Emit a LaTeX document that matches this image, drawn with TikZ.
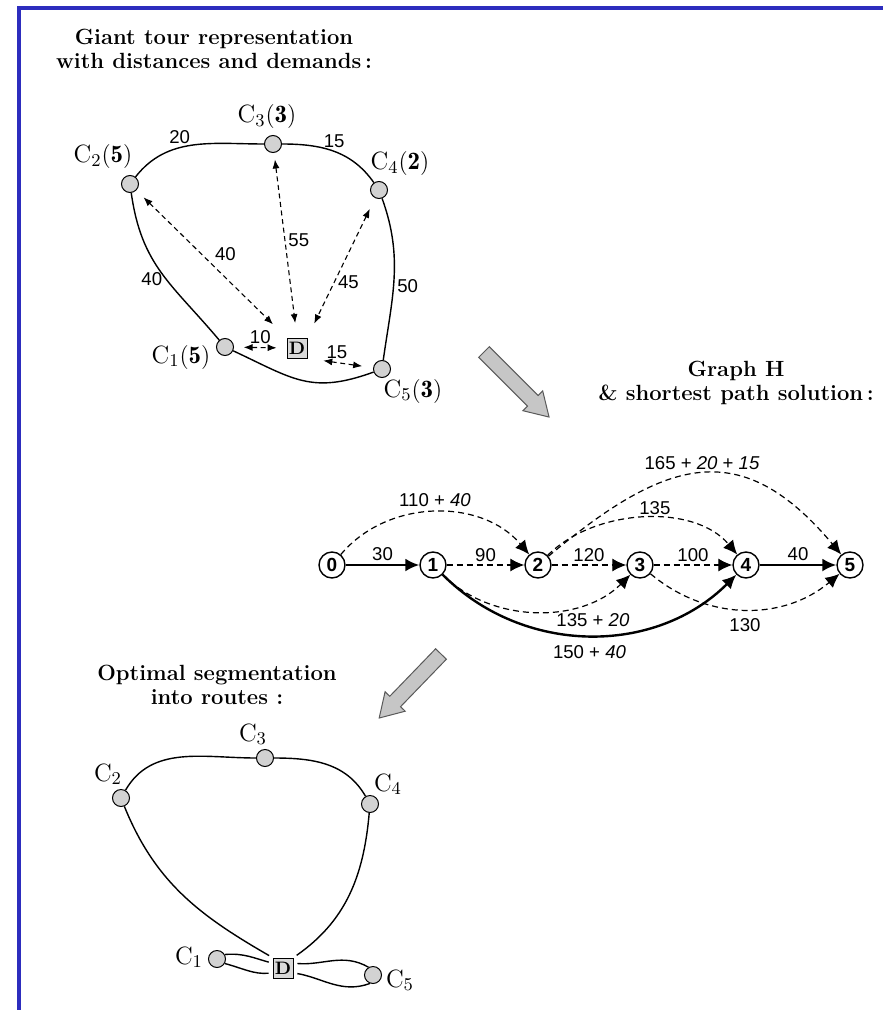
\documentclass[tikz,border=0pt]{standalone}
\usepackage{fontspec}
\newfontfamily\numfont{Liberation Sans}
\usetikzlibrary{arrows.meta,positioning,calc}
\definecolor{barblue}{RGB}{45,45,190}

\begin{document}
\begin{tikzpicture}[x=0.5pt,y=-0.5pt,
  client/.style={circle, draw, fill=gray!35, minimum size=8.5pt, inner sep=0pt, line width=0.5pt},
  depot/.style={rectangle, draw, fill=gray!30, minimum size=10pt, inner sep=0pt,
    font=\fontsize{9}{9}\selectfont\bfseries},
  clabel/.style={font=\fontsize{12.5}{13}\selectfont, inner sep=0pt},
  heading/.style={align=center, font=\fontsize{11}{12}\selectfont\bfseries},
  tour/.style={line width=0.7pt},
  dist/.style={{Latex[length=4.5pt,width=3.5pt]}-{Latex[length=4.5pt,width=3.5pt]},
    dash pattern=on 2.5pt off 1.8pt, line width=0.55pt},
  num/.style={font=\numfont\fontsize{9.3}{10}\selectfont, inner sep=1.5pt},
  hnode/.style={circle, draw, line width=0.7pt, minimum size=13pt, inner sep=0pt,
    font=\numfont\bfseries\fontsize{9.5}{10}\selectfont},
  cand/.style={-{Latex[length=7pt,width=6.5pt]}, dash pattern=on 3pt off 2pt, line width=0.6pt},
  best/.style={-{Latex[length=7pt,width=6.5pt]}, line width=1.2pt},
  bigarrow/.style={draw=black!65, fill=gray!45, line width=0.5pt, line join=miter},
  bluebar/.style={draw=barblue, line width=2pt}
]
\useasboundingbox (0,0) rectangle (883,1010);

% Frame
\draw[bluebar] (18.5,1010) -- (18.5,8.5) -- (883,8.5);

% Headings
\node[heading] (t1) at (214,49)  {Giant tour representation\\ with distances and demands\,:};
\node[heading] (t2) at (736,383) {Graph H\\ \& shortest path solution\,:};
\node[heading] (t3) at (217,685) {Optimal segmentation\\ into routes :};

% Giant tour
\node[client] (a1) at (225,347) {};
\node[client] (a2) at (130,184) {};
\node[client] (a3) at (273,144) {};
\node[client] (a4) at (379,190) {};
\node[client] (a5) at (382,369) {};
\node[depot]  (aD) at (297,348) {D};

\node[clabel] (a1lab) at (181,357) {$\mathrm{C}_1(\mathbf{5})$};
\node[clabel] (a2lab) at (103,157) {$\mathrm{C}_2(\mathbf{5})$};
\node[clabel] (a3lab) at (267,117) {$\mathrm{C}_3(\mathbf{3})$};
\node[clabel] (a4lab) at (400,164) {$\mathrm{C}_4(\mathbf{2})$};
\node[clabel] (a5lab) at (413,391) {$\mathrm{C}_5(\mathbf{3})$};

\draw[tour] (a2) to[out=52,in=180] node[num,above,pos=0.4]{20} (a3);
\draw[tour] (a3) to[out=0,in=125] node[num,above,pos=0.5]{15} (a4);
\draw[tour] (a4) to[out=-70,in=82] node[num,right,pos=0.55]{50} (a5);
\draw[tour] (a5) to[out=200,in=-25,looseness=1.2] (a1);
\draw[tour] (a1) to[out=130,in=-82,looseness=1.1] node[num,left,pos=0.45]{40} (a2);

\draw[dist, shorten <=5pt, shorten >=9.5pt] (a2) -- (aD.north west) node[num,pos=0.5,above right]{40};
\draw[dist, shorten <=3.3pt, shorten >=7.3pt] (a3) -- (aD.north) node[num,pos=0.47,right]{55};
\draw[dist, shorten <=6pt, shorten >=7.8pt] (a4) -- (aD.north east) node[num,pos=0.6,right]{45};
\draw[dist, shorten <=4.8pt, shorten >=5pt] (a1) -- (aD.west) node[num,pos=0.5,above]{10};
\draw[dist, shorten <=8pt, shorten >=5.5pt] (aD.south east) -- (a5) node[num,pos=0.45,above]{15};

% Arrows between the stages
\draw[bigarrow, shift={(484,352)}, rotate=-45]
  (0,-7.5) -- (69,-7.5) -- (69,-14) -- (92,0) -- (69,14) -- (69,7.5) -- (0,7.5) -- cycle;
\draw[bigarrow, shift={(441,654)}, rotate=-134]
  (0,-7.5) -- (66,-7.5) -- (66,-14) -- (89,0) -- (66,14) -- (66,7.5) -- (0,7.5) -- cycle;

% Graph H
\foreach \i/\x in {0/332,1/433,2/538,3/640,4/746,5/850}
  \node[hnode] (h\i) at (\x,565) {\i};

\draw[best] (h0) -- node[num,above]{30} (h1);
\draw[cand] (h1) -- node[num,above]{90} (h2);
\draw[cand] (h2) -- node[num,above]{120} (h3);
\draw[cand] (h3) -- node[num,above]{100} (h4);
\draw[best] (h4) -- node[num,above]{40} (h5);

\draw[cand] (h0) to[out=50,in=130] node[num,above=1pt]{110 + \textit{40}} (h2);
\draw[cand] (h2) to[out=45,in=130,looseness=0.9] node[num,above,pos=0.55]{135} (h4);
\draw[cand] (h2) to[out=40,in=130,looseness=1.35] node[num,above]{165 + \textit{20} + \textit{15}} (h5);
\draw[cand] (h1) to[out=-45,in=-135,looseness=0.95] node[num,below=5pt,pos=0.78]{135 + \textit{20}} (h3);
\draw[best] (h1) to[out=-45,in=-135] node[num,below=3pt]{150 + \textit{40}} (h4);
\draw[cand] (h3) to[out=-40,in=-140] node[num,below=3pt]{130} (h5);

% Routes
\node[client] (b1) at (217,959) {};
\node[client] (b2) at (121,798) {};
\node[client] (b3) at (265,758) {};
\node[client] (b4) at (370,804) {};
\node[client] (b5) at (373,975) {};
\node[depot]  (bD) at (283,968) {D};

\node[clabel] (b1lab) at (189,957) {$\mathrm{C}_1$};
\node[clabel] (b2lab) at (108,774) {$\mathrm{C}_2$};
\node[clabel] (b3lab) at (253,734) {$\mathrm{C}_3$};
\node[clabel] (b4lab) at (388,784) {$\mathrm{C}_4$};
\node[clabel] (b5lab) at (400,980) {$\mathrm{C}_5$};

\draw[tour] (b2) to[out=60,in=180] (b3);
\draw[tour] (b3) to[out=0,in=120] (b4);
\draw[tour, shorten >=2pt] (b2) to[out=-68,in=150] (bD.north west);
\draw[tour, shorten >=2pt] (b4) to[out=-95,in=35] (bD.north east);
\draw[tour, shorten >=2pt] (b1.30) to[out=5,in=165] (bD.155);
\draw[tour, shorten >=2pt] (b1.-30) to[out=-15,in=185] (bD.205);
\draw[tour, shorten <=2pt] (bD.25) to[out=-5,in=150] (b5.120);
\draw[tour, shorten <=2pt] (bD.-25) to[out=-10,in=-160] (b5.-110);

\end{tikzpicture}
\end{document}
